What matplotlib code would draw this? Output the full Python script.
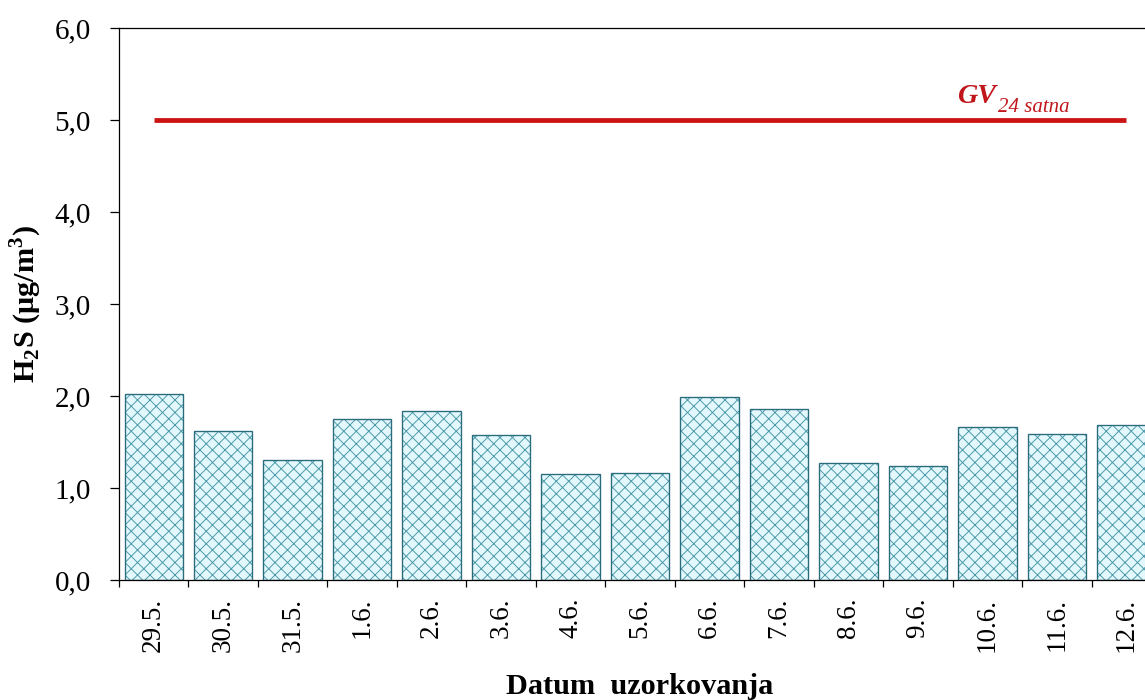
import matplotlib
matplotlib.use('Agg')
import matplotlib.pyplot as plt
import numpy as np

plt.rcParams['font.family'] = ['Liberation Serif', 'DejaVu Serif']
plt.rcParams['mathtext.fontset'] = 'custom'
plt.rcParams['mathtext.rm'] = 'Liberation Serif'
plt.rcParams['mathtext.bf'] = 'Liberation Serif:bold'
plt.rcParams['hatch.linewidth'] = 0.9

# data
dates = ['29.5.', '30.5.', '31.5.', '1.6.', '2.6.', '3.6.', '4.6.', '5.6.',
         '6.6.', '7.6.', '8.6.', '9.6.', '10.6.', '11.6.', '12.6.']
h2s = [2.02, 1.62, 1.30, 1.75, 1.84, 1.58, 1.15, 1.16,
       1.99, 1.86, 1.27, 1.24, 1.66, 1.59, 1.68]
gv_24h = 5.0
y_ticks = [0, 1, 2, 3, 4, 5, 6]
y_ticklabels = ['0,0', '1,0', '2,0', '3,0', '4,0', '5,0', '6,0']

DPI = 75
fig = plt.figure(figsize=(1145 / DPI, 700 / DPI), dpi=DPI)
# axes run past the right edge, like the cropped original
ax = fig.add_axes([119 / 1145, 120 / 700, 1042 / 1145, 552 / 700])

x = np.arange(len(dates))
# fill + hatch layer, then outline layer
ax.bar(x, h2s, width=0.84, color='#e2f8fc', edgecolor='#4a98a8',
       hatch='xx', linewidth=0, zorder=2)
ax.bar(x, h2s, width=0.84, color='none', edgecolor='#2b6c7c',
       linewidth=1.3, zorder=3)

# guideline value line
ax.plot([x[0], x[-1]], [gv_24h, gv_24h], color='#cc1414', linewidth=4.6,
        solid_capstyle='butt', zorder=4)
t1 = ax.text(11.57, 5.18, 'GV', color='#c0161b', fontsize=27,
             fontstyle='italic', fontweight='bold', ha='left', va='baseline')
# subscript hung off the GV text box
ax.annotate('24 satna', xy=(1, 0), xycoords=t1, xytext=(1, -2),
            textcoords='offset points', color='#c0161b', fontsize=20,
            fontstyle='italic', ha='left', va='baseline')

ax.set_xlim(-0.5, len(dates) - 0.5)
ax.set_ylim(0, 6)
ax.set_yticks(y_ticks)
ax.set_yticklabels(y_ticklabels, fontsize=28)
ax.tick_params(axis='y', direction='out', length=9, width=1.2, pad=18)

ax.set_xticks(x)
ax.set_xticklabels(dates, rotation=90, fontsize=26)
ax.set_xticks(np.arange(len(dates) + 1) - 0.5, minor=True)
ax.tick_params(axis='x', which='major', length=0, pad=17)
ax.tick_params(axis='x', which='minor', direction='out', length=7, width=1.2)

for s in ax.spines.values():
    s.set_linewidth(1.2)
    s.set_color('black')

ax.set_ylabel(r'$\mathbf{H_2S}$ (μg/m$^\mathbf{3}$)', fontsize=29,
              fontweight='bold')
ax.yaxis.set_label_coords(-0.072, 0.5)
ax.set_xlabel('Datum  uzorkovanja', fontsize=29, fontweight='bold')
ax.xaxis.set_label_coords(0.5, -0.168)

fig.savefig('out.png', dpi=DPI)
